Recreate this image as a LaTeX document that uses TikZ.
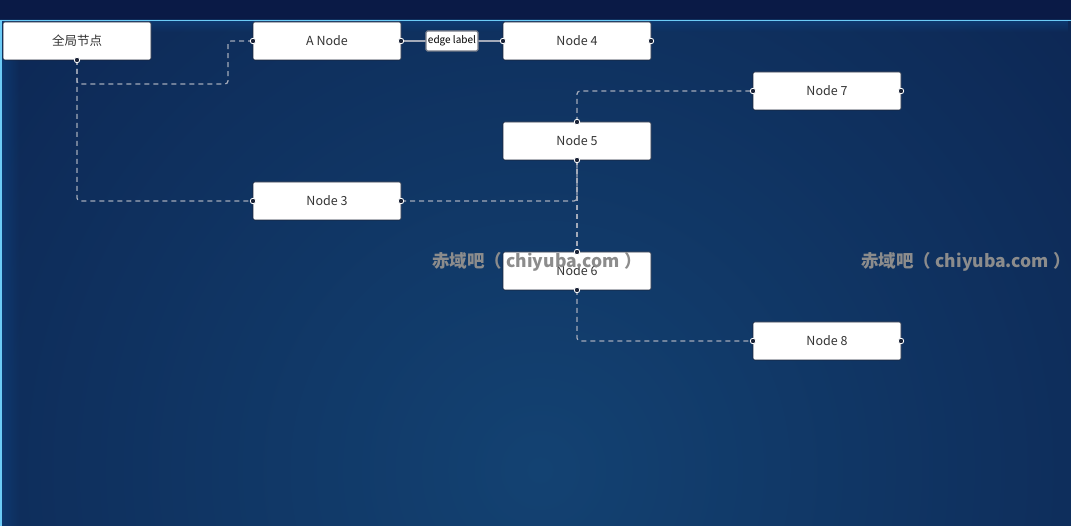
\documentclass[tikz,border=0pt]{standalone}
\usepackage{fontspec}
\setmainfont{Noto Sans CJK SC}
\usetikzlibrary{positioning,fadings}

\definecolor{bgtop}{HTML}{0A1A46}
\definecolor{bgin}{HTML}{134272}
\definecolor{bgout}{HTML}{0A1C48}
\definecolor{rim}{HTML}{6CCBF6}
\definecolor{glow}{HTML}{0E3A72}
\definecolor{wire}{HTML}{A3AAB9}
\definecolor{ink}{HTML}{333333}
\definecolor{dot}{HTML}{1C2438}
\definecolor{mark}{HTML}{8C8C8C}

\tikzset{
  box/.style={draw=dot, fill=white, rounded corners=1.5pt, line width=0.6pt,
    minimum width=148pt, minimum height=38pt, inner sep=0pt, outer sep=0pt,
    text=ink, font=\fontsize{12.5}{14}\selectfont},
  lbl/.style={draw=dot!60, fill=white, rounded corners=1.5pt, inner sep=2pt,
    minimum height=20pt, text=black, font=\fontsize{10}{12}\selectfont},
  link/.style={draw=wire, line width=1.2pt, dash pattern=on 5pt off 4pt, rounded corners=3pt},
  solidlink/.style={draw=wire, line width=1.2pt},
  port/.style={circle, draw=white, fill=dot, line width=0.8pt, inner sep=0pt, minimum size=5.5pt},
  wmark/.style={text=mark, font=\bfseries\fontsize{17.5}{19}\selectfont}
}

\begin{document}
\begin{tikzpicture}[x=1pt, y=-1pt, node distance=102pt]
  \useasboundingbox (0,0) rectangle (1071,526);
  \fill[bgtop] (0,0) rectangle (1071,20);
  \begin{scope}
    \clip (0,20) rectangle (1071,526);
    \shade[inner color=bgin, outer color=bgout] (540,470) circle (1000pt);
    \fill[glow, path fading=south] (0,20) rectangle (1071,32);
    \fill[glow, path fading=east] (0,20) rectangle (20,526);
  \end{scope}
  \draw[rim, line width=1.5pt] (0,20.5) -- (1071,20.5);
  \draw[rim, line width=1.5pt] (1,20) -- (1,526);

  \node[box] (g) at (77,41) {全局节点};
  \node[box, right=of g] (a) {A Node};
  \node[box, right=of a] (n4) {Node 4};
  \node[box, below right=12pt and 102pt of n4] (n7) {Node 7};
  \node[box, below=62pt of n4] (n5) {Node 5};
  \node[box, below=122pt of a] (n3) {Node 3};
  \node[box, below=92pt of n5] (n6) {Node 6};
  \node[box, below right=32pt and 102pt of n6] (n8) {Node 8};

  \draw[link] (g.south) -- ++(0,24) -| ([xshift=-25pt]a.west) -- (a.west);
  \draw[link] (g.south) |- (n3.west);
  \draw[solidlink] (a.east) -- node[lbl] {edge label} (n4.west);
  \draw[link] (n5.north) |- (n7.west);
  \draw[link] (n3.east) -| (n5.south);
  \draw[link] (n5.south) -- (n6.north);
  \draw[link] (n6.south) |- (n8.west);

  \foreach \p in {g.south, a.west, a.east, n4.west, n4.east, n7.west, n7.east,
                  n5.north, n5.south, n3.west, n3.east, n6.north, n6.south,
                  n8.west, n8.east}
    \node[port] at (\p) {};

  \node[wmark] (w1) at (537,262) {赤域吧（ chiyuba.com ）};
  \node[wmark] (w2) at (966,262) {赤域吧（ chiyuba.com ）};
\end{tikzpicture}
\end{document}
